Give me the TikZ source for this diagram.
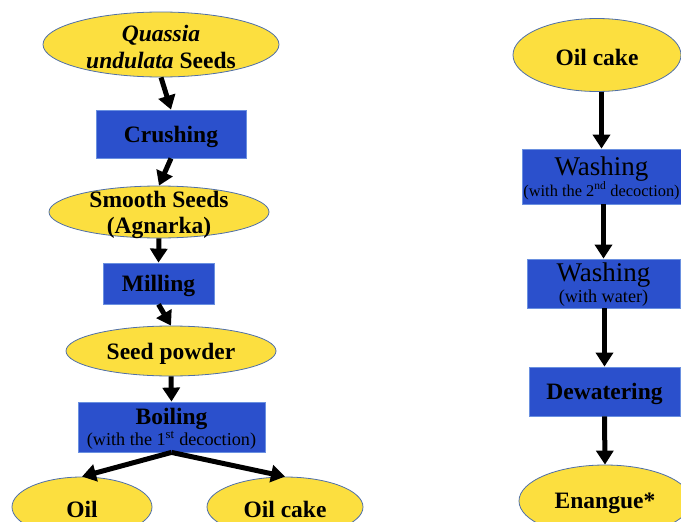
\documentclass[tikz,border=0pt]{standalone}
\usepackage{fontspec}
\setmainfont{Liberation Serif}
\usetikzlibrary{shapes.geometric,arrows.meta}
\definecolor{ylw}{HTML}{FCDF3F}
\definecolor{ybd}{HTML}{4F6FA8}
\definecolor{bfill}{HTML}{2B50CC}
\definecolor{bbd}{HTML}{6A90E0}
\begin{document}
\begin{tikzpicture}[x=1pt,y=-1pt,
  oval/.style={ellipse, draw=ybd, fill=ylw, line width=0.8pt, inner sep=0pt},
  stepbox/.style={rectangle, draw=bbd, fill=bfill, line width=0.8pt, inner sep=0pt},
  bigb/.style={font=\fontsize{23.5}{27}\selectfont\bfseries, align=center, inner sep=0pt, yshift=-2.5pt},
  wash/.style={font=\fontsize{18.2}{21}\selectfont, align=center, inner sep=0pt, yshift=-1.5pt},
  flow/.style={line width=5pt, -{Triangle[width=17pt,length=14pt]}},
]
\path[use as bounding box] (0,0) rectangle (681,522);
\clip (0,0) rectangle (681,522);

% left column
\node[oval, minimum width=236pt, minimum height=65pt,
  label={[bigb]center:{\textit{Quassia}\\\textit{undulata} Seeds}}] (qs) at (161,44.5) {};
\node[stepbox, minimum width=150pt, minimum height=48pt,
  label={[bigb]center:Crushing}] (cr) at (171,134) {};
\node[oval, minimum width=220pt, minimum height=52pt,
  label={[bigb, font=\fontsize{23.5}{26}\selectfont\bfseries]center:{Smooth Seeds\\(Agnarka)}}] (ss) at (159,212) {};
\node[stepbox, minimum width=111pt, minimum height=41pt,
  label={[bigb]center:Milling}] (mi) at (158.5,283.5) {};
\node[oval, minimum width=210pt, minimum height=50pt,
  label={[bigb]center:Seed powder}] (sp) at (171,351) {};
\node[stepbox, minimum width=187pt, minimum height=50pt,
  label={[wash]center:{{\fontsize{23.5}{21}\selectfont\bfseries Boiling}\\(with the 1\textsuperscript{st} decoction)}}] (bo) at (171.5,427) {};
\node[oval, minimum width=140pt, minimum height=60pt,
  label={[bigb]center:Oil}] (oil) at (82,507) {};
\node[oval, minimum width=156pt, minimum height=60pt,
  label={[bigb]center:Oil cake}] (ocl) at (285,507) {};

\draw[flow] (qs.south) -- (cr.north);
\draw[flow] (cr.south) -- (ss.north);
\draw[flow] (ss.south) -- (mi.north);
\draw[flow] (mi.south) -- (sp.north);
\draw[flow] (sp.south) -- (bo.north);
\draw[flow] (bo.south) -- (oil.north);
\draw[flow] (bo.south) -- (ocl.north);

% right column
\node[oval, minimum width=168pt, minimum height=73pt,
  label={[bigb]center:Oil cake}] (ocr) at (597,55) {};
\node[stepbox, minimum width=159pt, minimum height=55pt,
  label={[wash, font=\fontsize{16.4}{21}\selectfont]center:{{\fontsize{27}{22}\selectfont Washing}\\(with the 2\textsuperscript{nd} decoction)}}] (w1) at (601.5,176.5) {};
\node[stepbox, minimum width=153pt, minimum height=49pt,
  label={[wash]center:{{\fontsize{27}{20}\selectfont Washing}\\(with water)}}] (w2) at (603.5,283.5) {};
\node[stepbox, minimum width=151pt, minimum height=49pt,
  label={[bigb]center:Dewatering}] (dw) at (604.5,391.5) {};
\node[oval, minimum width=172pt, minimum height=72pt,
  label={[bigb]center:Enangue*}] (en) at (605,501) {};

\draw[flow] (ocr.south -| w1.north) -- (w1.north);
\draw[flow] (w1.south -| w2.north) -- (w2.north);
\draw[flow] (w2.south -| dw.north) -- (dw.north);
\draw[flow] (dw.south) -- (en.north);
\end{tikzpicture}
\end{document}
